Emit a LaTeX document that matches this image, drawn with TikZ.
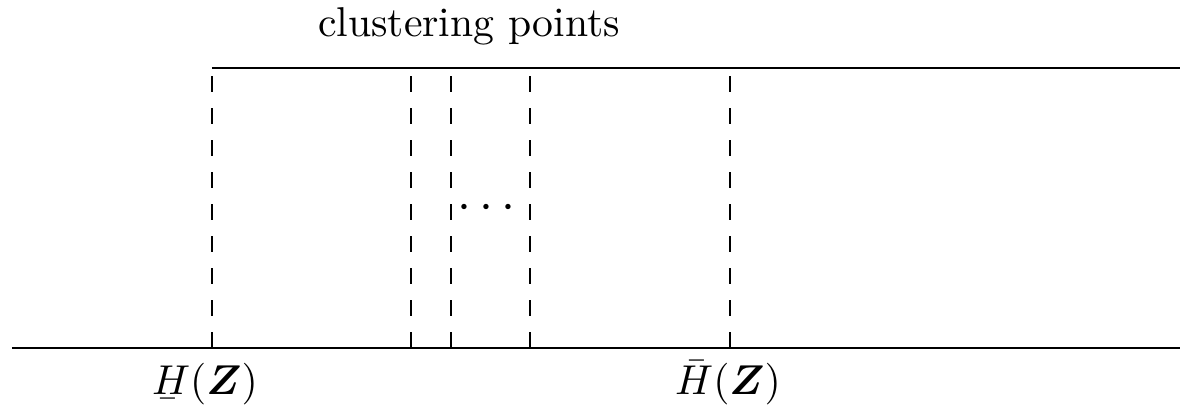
\documentclass[tikz,border=0pt]{standalone}
\usepackage{amsmath}
\usepackage{accents}
\usetikzlibrary{positioning}

\begin{document}
\begin{tikzpicture}[
  axis/.style={line width=0.48pt},
  vline/.style={line width=0.48pt, dash pattern=on 3.84pt off 3.84pt},
  lbl/.style={anchor=base, inner sep=0pt}
]
\useasboundingbox (0,0) rectangle (10.057,3.498);

% axis and top line
\coordinate (axL)  at (0.101,0.565);
\coordinate (axR)  at (9.947,0.565);
\coordinate (topL) at (1.787,2.925);
\coordinate (topR) at (9.947,2.925);
\draw[axis] (axL) -- (axR);
\draw[axis] (topL) -- (topR);

% clustering points
\coordinate (b1) at (1.787,0.565); \coordinate (t1) at (1.787,2.925);
\coordinate (b2) at (3.465,0.565); \coordinate (t2) at (3.465,2.925);
\coordinate (b3) at (3.802,0.565); \coordinate (t3) at (3.802,2.925);
\coordinate (b4) at (4.468,0.565); \coordinate (t4) at (4.468,2.925);
\coordinate (b5) at (6.154,0.565); \coordinate (t5) at (6.154,2.925);
\draw[vline] (b1) -- (t1);
\draw[vline] (b2) -- (t2);
\draw[vline] (b3) -- (t3);
\draw[vline] (b4) -- (t4);
\draw[vline] (b5) -- (t5);

\node[lbl] (clus) at (3.954,3.187) {clustering points};
\node[lbl, font=\large] (dots) at (4.137,1.650) {$\cdots$};

\node[lbl] (hlow) at (1.728,0.170) {$\underaccent{\bar}{H}(\boldsymbol{Z})$};
\node[lbl] (hup)  at (6.137,0.170) {$\bar{H}(\boldsymbol{Z})$};
\end{tikzpicture}
\end{document}
